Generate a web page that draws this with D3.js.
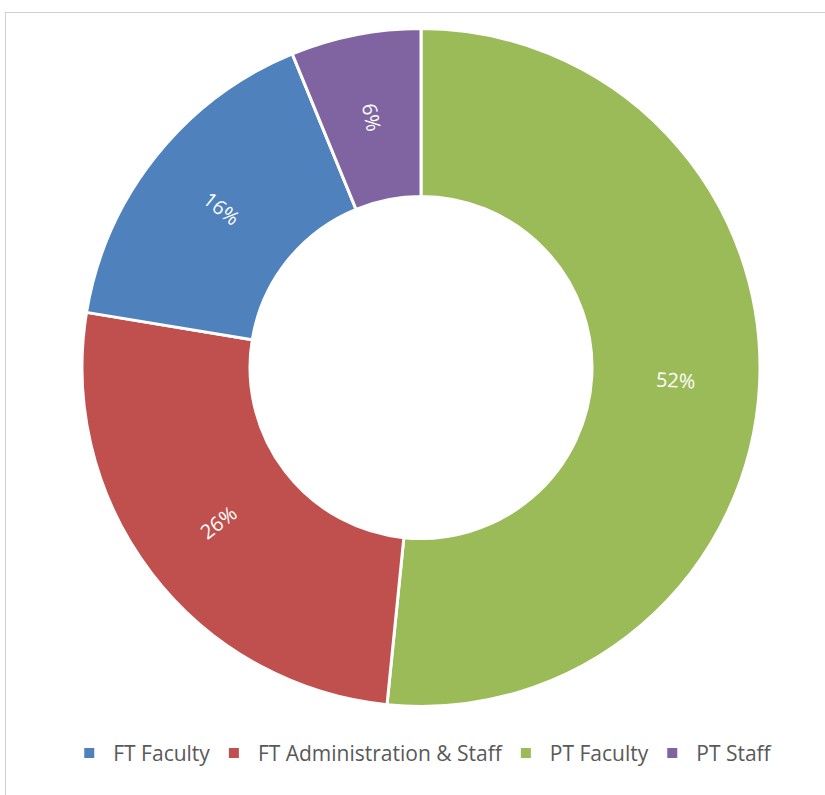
<!DOCTYPE html>
<html>
<head>
<meta charset="utf-8">
<script src="https://cdn.jsdelivr.net/npm/d3@7"></script>
<style>
  body { margin: 0; background: #fff; }
  svg { display: block; font-family: "Open Sans", sans-serif; }
</style>
</head>
<body>
<div id="chart"></div>
<script>
// slice order as drawn clockwise from 12 o'clock
var categories = ["PT Faculty", "FT Administration & Staff", "FT Faculty", "PT Staff"];
var values = [51.6, 26.0, 16.2, 6.2];
var colors = ["#9bbb59", "#c0504d", "#4f81bd", "#8064a2"];
// legend order
var legendOrder = ["FT Faculty", "FT Administration & Staff", "PT Faculty", "PT Staff"];

var width = 825, height = 795;
var cx = 421, cy = 367.5;
var outerR = 339, innerR = 171;

var svg = d3.select("#chart").append("svg")
  .attr("width", width)
  .attr("height", height);

// chart area border
svg.append("rect")
  .attr("x", 5.5).attr("y", 12.5)
  .attr("width", width).attr("height", height)
  .attr("fill", "none")
  .attr("stroke", "#d0d0d0")
  .attr("stroke-width", 1);

var data = categories.map(function(c, i) { return {name: c, value: values[i]}; });

var color = d3.scaleOrdinal().domain(categories).range(colors);

var pie = d3.pie()
  .sort(null)
  .value(function(d) { return d.value; });

var arc = d3.arc().innerRadius(innerR).outerRadius(outerR);
var labelArc = d3.arc().innerRadius((innerR + outerR) / 2).outerRadius((innerR + outerR) / 2);

var g = svg.append("g").attr("transform", "translate(" + cx + "," + cy + ")");

var arcs = pie(data);

g.selectAll("path.slice")
  .data(arcs)
  .enter().append("path")
  .attr("class", "slice")
  .attr("d", arc)
  .attr("fill", function(d) { return color(d.data.name); })
  .attr("stroke", "#fff")
  .attr("stroke-width", 3)
  .attr("stroke-linejoin", "miter");

var total = d3.sum(values);

g.selectAll("text.lbl")
  .data(arcs)
  .enter().append("text")
  .attr("class", "lbl")
  .attr("transform", function(d) {
    var p = labelArc.centroid(d);
    var a = (d.startAngle + d.endAngle) / 2 * 180 / Math.PI;
    var r = a - 90;
    if (r > 90) r -= 180;
    return "translate(" + p[0] + "," + p[1] + ") rotate(" + r + ")";
  })
  .attr("text-anchor", "middle")
  .attr("dy", "0.36em")
  .attr("fill", "#fff")
  .style("font-size", "20px")
  .text(function(d) { return Math.round(d.data.value / total * 100) + "%"; });

// legend
var legend = svg.append("g").attr("class", "legend");
var legendY = 753;
var sq = 10, gapSq = 19, gapItem = 19;

var items = legend.selectAll("g.item")
  .data(legendOrder)
  .enter().append("g")
  .attr("class", "item");

items.append("rect")
  .attr("width", sq).attr("height", sq)
  .attr("y", legendY - sq / 2)
  .attr("fill", function(d) { return color(d); });

items.append("text")
  .attr("y", legendY)
  .attr("dy", "0.36em")
  .attr("fill", "#595959")
  .style("font-size", "21px")
  .text(function(d) { return d; });

var xpos = 0, offsets = [];
items.each(function() {
  var w = d3.select(this).select("text").node().getComputedTextLength();
  offsets.push(xpos);
  xpos += sq + gapSq + w + gapItem;
});
var totalW = xpos - gapItem;
var startX = 427.5 - totalW / 2;

items.attr("transform", function(d, i) { return "translate(" + (startX + offsets[i]) + ",0)"; });
items.select("text").attr("x", sq + gapSq);
</script>
</body>
</html>
